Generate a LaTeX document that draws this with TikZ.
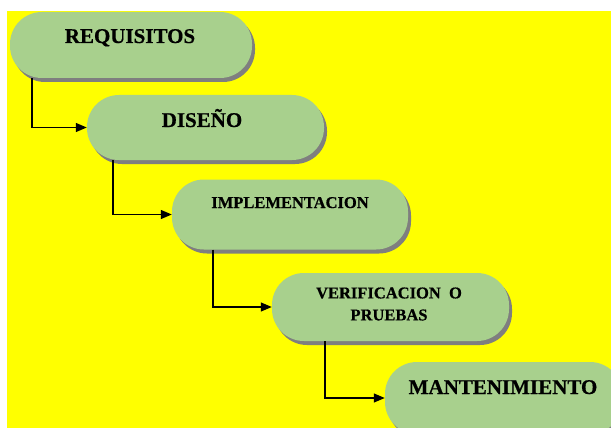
\documentclass[tikz,border=0pt]{standalone}
\usepackage{fontspec}
\setmainfont{Liberation Serif}[BoldFeatures={FakeBold=0.6}]
\usetikzlibrary{shadows,arrows.meta}
\definecolor{bggreen}{HTML}{A8D08D}
\definecolor{bgyellow}{HTML}{FFFF00}
\definecolor{shadowgray}{HTML}{7F7F7F}
\tikzset{
  stagebox/.style={draw=none, fill=bggreen, rectangle, rounded corners=32pt, inner sep=0pt,
    drop shadow={shadow xshift=3pt, shadow yshift=-4pt, fill=shadowgray, opacity=1}},
  stagelabel/.style={inner sep=0pt, font=\bfseries, text=black, align=center},
  flowarrow/.style={draw=black, line width=1.3pt, -{Triangle[length=11pt,width=9pt]}}
}
\begin{document}
\begin{tikzpicture}[x=1pt,y=-1pt]
\useasboundingbox (0,0) rectangle (611,428);
\fill[white] (0,0) rectangle (611,428);
\fill[bgyellow] (7,11) rectangle (611,428);
\begin{scope}
\clip (0,0) rectangle (611,428);
\node[stagebox, minimum width=242pt, minimum height=66pt] (b1) at (131,45) {};
\node[stagebox, minimum width=237pt, minimum height=65pt] (b2) at (205.5,127.5) {};
\node[stagebox, minimum width=236pt, minimum height=70pt] (b3) at (290,214.5) {};
\node[stagebox, minimum width=237pt, minimum height=68pt] (b4) at (390.5,307) {};
\node[stagebox, minimum width=237pt, minimum height=72pt] (b5) at (503.5,398) {};
\end{scope}
\node[stagelabel, anchor=base, font=\bfseries\fontsize{21}{22}\selectfont] (t1) at (130,43) {REQUISITOS};
\node[stagelabel, anchor=base, font=\bfseries\fontsize{21}{22}\selectfont] (t2) at (202,127) {DISEÑO};
\node[stagelabel, anchor=base, font=\bfseries\fontsize{16.5}{18}\selectfont] (t3) at (290,208) {IMPLEMENTACION};
\node[stagelabel, anchor=center, font=\bfseries\fontsize{16.5}{22}\selectfont] (t4) at (389,304) {VERIFICACION\ \ O\\PRUEBAS};
\node[stagelabel, anchor=base, font=\bfseries\fontsize{21}{22}\selectfont] (t5) at (503,394) {MANTENIMIENTO};
\coordinate (k1) at (32,0);
\coordinate (k2) at (113,0);
\coordinate (k3) at (213,0);
\coordinate (k4) at (325,0);
\draw[flowarrow] (b1.south -| k1) |- (b2.west);
\draw[flowarrow] (b2.south -| k2) |- (b3.west);
\draw[flowarrow] (b3.south -| k3) |- (b4.west);
\draw[flowarrow] (b4.south -| k4) |- (b5.west);
\end{tikzpicture}
\end{document}
